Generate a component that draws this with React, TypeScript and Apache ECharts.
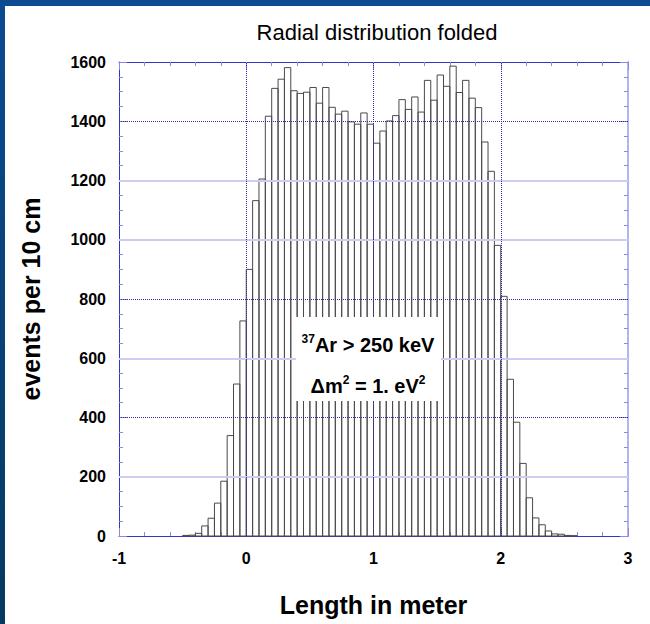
import React, { useEffect, useRef } from "react";
import * as echarts from "echarts";

// Histogram bins: first bin lower edge and bin width (metres)
const BIN_START = -0.5;
const BIN_WIDTH = 0.05;

// Counts per bin (from -0.5 m upward)
const counts = [
  2, 3, 9, 34, 60, 111, 185, 339, 513, 726,
  900, 1132, 1205, 1417, 1511, 1542, 1581, 1503, 1494, 1498,
  1514, 1461, 1514, 1447, 1424, 1434, 1398, 1390, 1428, 1390,
  1326, 1367, 1401, 1419, 1473, 1440, 1482, 1431, 1538, 1471,
  1556, 1518, 1586, 1497, 1538, 1478, 1446, 1330, 1231, 981,
  809, 529, 384, 245, 129, 61, 38, 17, 7, 6,
  2, 1,
];

const xRange = [-1, 3];
const yRange = [0, 1600];
const darkGridY = [400, 800, 1400];
const lightGridY = [200, 600, 1000, 1200];
const darkGridX = [0, 1, 2];

const titleText = "Radial distribution folded";
const xName = "Length in meter";
const yName = "events per 10 cm";

const FONT = "'Liberation Sans', Arial, Helvetica, sans-serif";

export default function App() {
  const ref = useRef<HTMLDivElement>(null);

  useEffect(() => {
    if (!ref.current) return;
    const chart = echarts.init(ref.current, undefined, { renderer: "svg" });

    const data = counts.map((c, i) => [
      BIN_START + i * BIN_WIDTH,
      BIN_START + (i + 1) * BIN_WIDTH,
      c,
    ]);

    const darkLine = { color: "#2e2ea0", type: [1, 1], width: 1 };
    const lightLine = { color: "#cdcdf3", type: "solid", width: 2 };

    const tickStyle = { color: "#8a8ae4", width: 1 };
    const frameColor = "#3434c8";

    const xBase = {
      type: "value",
      min: xRange[0],
      max: xRange[1],
      interval: 1,
      splitLine: { show: false },
      axisTick: { show: true, inside: true, length: 8, lineStyle: tickStyle },
      minorTick: { show: true, splitNumber: 5, length: 4, lineStyle: tickStyle },
      minorSplitLine: { show: false },
    };
    const yBase = {
      type: "value",
      min: yRange[0],
      max: yRange[1],
      interval: 200,
      splitLine: { show: false },
      axisTick: { show: true, inside: true, length: 8, lineStyle: tickStyle },
      minorTick: { show: true, splitNumber: 4, length: 4, lineStyle: tickStyle },
      minorSplitLine: { show: false },
    };

    const option: any = {
      animation: false,
      backgroundColor: "#ffffff",
      grid: { left: 119, right: 22, top: 62, bottom: 88, containLabel: false },
      xAxis: [
        {
          ...xBase,
          position: "bottom",
          axisLine: { show: true, onZero: false, lineStyle: { color: frameColor, width: 1 } },
          axisLabel: {
            color: "#000",
            fontWeight: "bold",
            fontSize: 16,
            fontFamily: FONT,
            margin: 14,
            formatter: (v: number) => String(v),
          },
          name: xName,
          nameLocation: "middle",
          nameGap: 56,
          nameTextStyle: {
            color: "#000",
            fontWeight: "bold",
            fontSize: 25,
            fontFamily: FONT,
          },
        },
        {
          ...xBase,
          position: "top",
          axisLine: { show: true, onZero: false, lineStyle: { color: frameColor, width: 1 } },
          axisLabel: { show: false },
        },
      ],
      yAxis: [
        {
          ...yBase,
          position: "left",
          axisLine: { show: true, onZero: false, lineStyle: { color: frameColor, width: 1 } },
          axisLabel: {
            color: "#000",
            fontWeight: "bold",
            fontSize: 16,
            fontFamily: FONT,
            margin: 13,
            formatter: (v: number) => String(v),
          },
          name: yName,
          nameLocation: "middle",
          nameGap: 76,
          nameRotate: 90,
          nameTextStyle: {
            color: "#000",
            fontWeight: "bold",
            fontSize: 25,
            fontFamily: FONT,
          },
        },
        {
          ...yBase,
          position: "right",
          axisLine: { show: true, onZero: false, lineStyle: { color: "#b4b4f0", width: 2 } },
          axisLabel: { show: false },
        },
      ],
      series: [
        {
          type: "custom",
          xAxisIndex: 0,
          yAxisIndex: 0,
          encode: { x: [0, 1], y: 2 },
          data,
          renderItem: (params: any, api: any) => {
            const x0 = api.value(0);
            const x1 = api.value(1);
            const v = api.value(2);
            const p0 = api.coord([x0, 0]);
            const p1 = api.coord([x1, v]);
            return {
              type: "rect",
              shape: {
                x: p0[0],
                y: p1[1],
                width: p1[0] - p0[0],
                height: p0[1] - p1[1],
              },
              style: { fill: "none", stroke: "#4a4a4a", lineWidth: 1 },
            };
          },
          markLine: {
            silent: true,
            symbol: ["none", "none"],
            label: { show: false },
            animation: false,
            data: [
              ...darkGridY.map((v) => ({ yAxis: v, lineStyle: darkLine })),
              ...lightGridY.map((v) => ({ yAxis: v, lineStyle: lightLine })),
              ...darkGridX.map((v) => ({ xAxis: v, lineStyle: darkLine })),
            ],
          },
        },
      ],
      graphic: [
        {
          type: "rect",
          shape: { x: 0, y: 0, width: 650, height: 6 },
          style: { fill: "#0c4a92" },
          silent: true,
        },
        {
          type: "rect",
          shape: { x: 0, y: 0, width: 5, height: 624 },
          style: {
            fill: new echarts.graphic.LinearGradient(0, 0, 0, 1, [
              { offset: 0, color: "#0c4a92" },
              { offset: 1, color: "#053a60" },
            ]),
          },
          silent: true,
        },
        {
          type: "text",
          x: 377,
          y: 32,
          style: {
            text: titleText,
            align: "center",
            verticalAlign: "middle",
            fontSize: 22,
            fontFamily: FONT,
            fill: "#000",
          },
        },
        {
          type: "rect",
          z: 100,
          shape: { x: 296, y: 317, width: 145, height: 84 },
          style: { fill: "#ffffff" },
        },
        {
          type: "text",
          z: 101,
          x: 368,
          y: 345,
          style: {
            text: "{s|37}{b|Ar > 250 keV}",
            align: "center",
            verticalAlign: "middle",
            fill: "#000",
            rich: {
              b: { fontSize: 20, fontWeight: "bold", fontFamily: FONT, lineHeight: 24 },
              s: {
                fontSize: 12,
                fontWeight: "bold",
                fontFamily: FONT,
                lineHeight: 12,
                verticalAlign: "top",
              },
            },
          },
        },
        {
          type: "text",
          z: 101,
          x: 368,
          y: 386,
          style: {
            text: "{b|\u0394m}{s|2}{b| = 1. eV}{s|2}",
            align: "center",
            verticalAlign: "middle",
            fill: "#000",
            rich: {
              b: { fontSize: 20, fontWeight: "bold", fontFamily: FONT, lineHeight: 24 },
              s: {
                fontSize: 12,
                fontWeight: "bold",
                fontFamily: FONT,
                lineHeight: 12,
                verticalAlign: "top",
              },
            },
          },
        },
      ],
    };

    chart.setOption(option);
    return () => chart.dispose();
  }, []);

  return (
    <div
      ref={ref}
      style={{ position: "fixed", left: 0, top: 0, width: 650, height: 624 }}
    />
  );
}
